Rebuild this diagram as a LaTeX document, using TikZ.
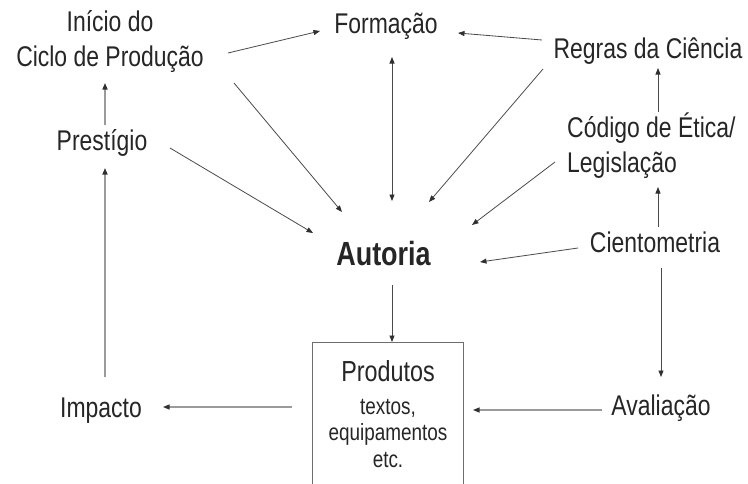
\documentclass[tikz,border=0pt]{standalone}
\usepackage{fontspec}
\setmainfont{Liberation Sans}[FakeStretch=0.805]
\usetikzlibrary{arrows.meta}
\definecolor{txt}{HTML}{262626}
\definecolor{ln}{HTML}{4A4A4A}
\definecolor{lnl}{HTML}{9A9A9A}
\definecolor{tip}{HTML}{303030}
\tikzset{
  lbl/.style={inner sep=0pt, text=txt, font=\fontsize{28.5}{35}\selectfont, align=center},
  arr/.style={draw=ln, line width=0.8pt, -{Triangle[length=6.5pt,width=5pt,color=tip]}},
  arrl/.style={draw=lnl, line width=1.5pt, -{Triangle[length=6.5pt,width=5pt,color=tip]}},
  arrh/.style={draw=lnl, line width=1.1pt, -{Triangle[length=6.5pt,width=5pt,color=tip]}},
  dbl/.style={draw=ln, line width=0.8pt, {Triangle[length=6.5pt,width=5pt,color=tip]}-{Triangle[length=6.5pt,width=5pt,color=tip]}},
  boxline/.style={draw=ln!80, line width=0.8pt}
}
\begin{document}
\begin{tikzpicture}[x=1pt,y=-1pt]
\useasboundingbox[fill=white] (0,0) rectangle (748,483);
% nodes (base anchor of a multi-line node = baseline of its last line)
\node[lbl, anchor=base] (inicio) at (110,66) {Início do\\Ciclo de Produção};
\node[lbl, anchor=base] (formacao) at (386,33) {Formação};
\node[lbl, anchor=base] (regras) at (648,58) {Regras da Ciência};
\node[lbl, anchor=base] (prestigio) at (102,150) {Prestígio};
\node[lbl, anchor=base west, align=left] (codigo) at (567,172) {Código de Ética/\\Legislação};
\node[lbl, anchor=base, font=\bfseries\fontsize{33.5}{38}\selectfont] (autoria) at (383.5,265) {Autoria};
\node[lbl, anchor=base] (cientometria) at (655,252) {Cientometria};
\node[lbl, anchor=base] (impacto) at (101,417) {Impacto};
\node[lbl, anchor=base] (avaliacao) at (661,415) {Avaliação};
\node[lbl, anchor=base, font=\fontsize{23.5}{26.5}\selectfont] (prod) at (388,467)
  {{\fontsize{29}{33}\selectfont Produtos}\\[6pt]textos,\\equipamentos\\etc.};
% open box around products
\draw[boxline] ([shift={(-75.5,17)}]prod.base) -- ([shift={(-75.5,-125)}]prod.base)
  -- ([shift={(75.5,-125)}]prod.base) -- ([shift={(75.5,17)}]prod.base);
% connectors
\draw[arr] ([shift={(118,-13)}]inicio.base) -- ([shift={(-66,-2)}]formacao.base);
\draw[arr] ([shift={(-106,-18)}]regras.base) -- ([shift={(72,0)}]formacao.base);
\draw[dbl] ([shift={(6,24)}]formacao.base) -- ([shift={(8.5,-64)}]autoria.base);
\draw[arr] ([shift={(124,17)}]inicio.base) -- ([shift={(-41.5,-53)}]autoria.base);
\draw[arr] ([shift={(68,-2)}]prestigio.base) -- ([shift={(-70.5,-32)}]autoria.base);
\draw[arr] ([shift={(-105,11)}]regras.base) -- ([shift={(45.5,-63)}]autoria.base);
\draw[arr] ([shift={(-12,-10)}]codigo.base west) -- ([shift={(88.5,-40)}]autoria.base);
\draw[arr] ([shift={(-77,-4)}]cientometria.base) -- ([shift={(96.5,-3)}]autoria.base);
\draw[arrl] ([shift={(3,-25)}]prestigio.base) -- ([shift={(-5,17)}]inicio.base);
\draw[arrl] ([shift={(4,-40)}]impacto.base) -- ([shift={(3,18)}]prestigio.base);
\draw[arr] ([shift={(91,-60)}]codigo.base west) -- ([shift={(10,10)}]regras.base);
\draw[arr] ([shift={(3,-25)}]cientometria.base) -- ([shift={(91,15)}]codigo.base west);
\draw[arr] ([shift={(6,16)}]cientometria.base) -- ([shift={(0,-38)}]avaliacao.base);
\draw[arr] ([shift={(8.5,20)}]autoria.base) -- ([shift={(4,-125)}]prod.base);
\draw[arrh] ([shift={(-59,-5)}]avaliacao.base) -- ([shift={(85,-57)}]prod.base);
\draw[arrh] ([shift={(-96,-60)}]prod.base) -- ([shift={(62,-10)}]impacto.base);
\end{tikzpicture}
\end{document}
